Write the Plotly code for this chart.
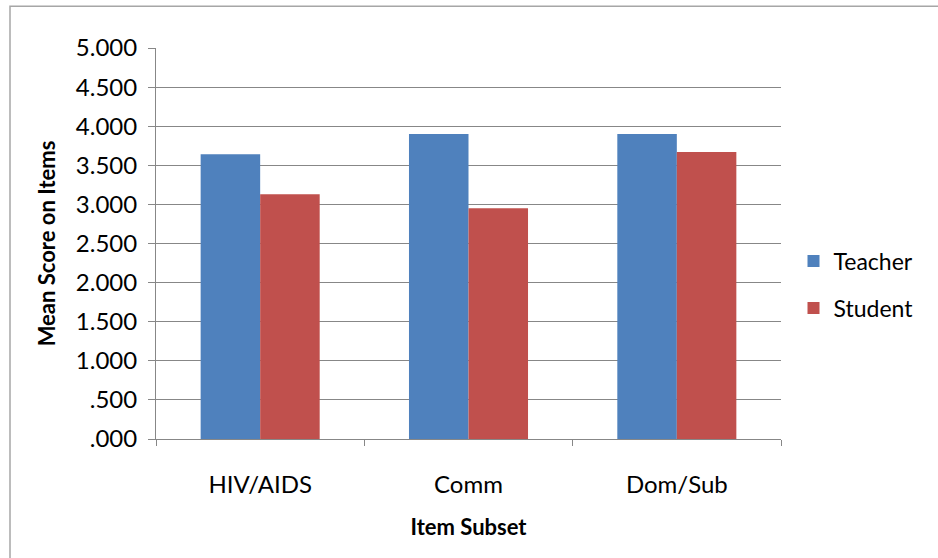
import plotly.graph_objects as go

# Mean item scores by subset for each respondent group
categories = ["HIV/AIDS", "Comm", "Dom/Sub"]
teacher = [3.64, 3.90, 3.90]
student = [3.13, 2.95, 3.67]
series_names = ["Teacher", "Student"]
series_colors = ["#4F81BD", "#C0504D"]

y_ticks = [0.0, 0.5, 1.0, 1.5, 2.0, 2.5, 3.0, 3.5, 4.0, 4.5, 5.0]
y_tick_text = [f"{v:.3f}".lstrip("0") if v < 1 else f"{v:.3f}" for v in y_ticks]

FONT = "Lato, Calibri, Carlito, sans-serif"
TICK_FS = 24
TITLE_FS = 22

fig = go.Figure()
for name, vals, color in zip(series_names, [teacher, student], series_colors):
    fig.add_trace(go.Bar(
        x=categories, y=vals, name=name, legendgroup=name,
        marker=dict(color=color, line=dict(width=0)),
    ))

fig.update_layout(
    width=938, height=558,
    barmode="group", bargap=0.4286, bargroupgap=0,
    plot_bgcolor="white", paper_bgcolor="white",
    margin=dict(l=156, r=157, t=48, b=119),
    font=dict(family=FONT, size=TICK_FS, color="#000000"),
    showlegend=True,
    legend=dict(
        x=1.02, y=0.395, xanchor="left", yanchor="middle",
        font=dict(family=FONT, size=TICK_FS - 1, color="#000000"),
        tracegroupgap=14, itemwidth=30,
        bgcolor="rgba(0,0,0,0)",
    ),
    xaxis=dict(
        title=dict(text="<b>Item Subset</b>", font=dict(family=FONT, size=TITLE_FS), standoff=22),
        showline=True, linecolor="#878787", linewidth=1,
        ticks="outside", tickson="boundaries", ticklen=6, tickcolor="#878787",
        ticklabelstandoff=24,
        tickfont=dict(family=FONT, size=TICK_FS),
        showgrid=False,
    ),
    yaxis=dict(
        title=dict(text="<b>Mean Score on Items</b>", font=dict(family=FONT, size=TITLE_FS), standoff=14),
        range=[0, 5], tickvals=y_ticks, ticktext=y_tick_text,
        showline=True, linecolor="#878787", linewidth=1,
        ticks="outside", ticklen=7, tickcolor="#878787",
        ticklabelstandoff=6,
        tickfont=dict(family=FONT, size=TICK_FS),
        showgrid=True, gridcolor="#878787", gridwidth=1,
        zeroline=False,
    ),
    shapes=[dict(
        type="rect", xref="paper", yref="paper",
        x0=-0.2336, x1=2.0, y0=-2.0, y1=1.1066,
        line=dict(color="#A6A6A6", width=1.5), fillcolor="rgba(0,0,0,0)",
        layer="below",
    )],
)

fig.write_html("out.html")
